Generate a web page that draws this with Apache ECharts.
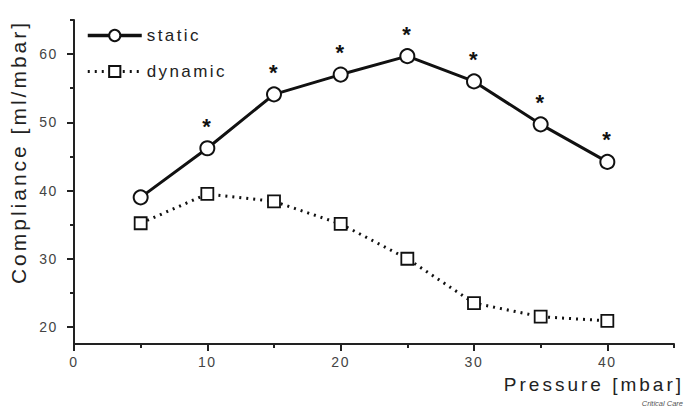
<!DOCTYPE html>
<html>
<head>
<meta charset="utf-8">
<script src="https://cdn.jsdelivr.net/npm/echarts@6/dist/echarts.min.js"></script>
<style>
  html, body { margin: 0; padding: 0; background: #fff; }
  #chart { width: 685px; height: 409px; }
  /* the original figure uses widely tracked lettering */
  #chart text { letter-spacing: 1.6px; }
  #chart text[style*="21px"] { letter-spacing: 3px; }
  #chart text[style*="19px"] { letter-spacing: 3px; }
  #chart text[style*="17px"] { letter-spacing: 2.4px; }
  #chart text[style*="7.5px"] { letter-spacing: 0; }
</style>
</head>
<body>
<div id="chart"></div>
<script>
// data
const pressure = [5, 10, 15, 20, 25, 30, 35, 40];
const staticC = [39.0, 46.2, 54.1, 57.0, 59.7, 56.0, 49.7, 44.2];
const dynamicC = [35.2, 39.5, 38.4, 35.1, 30.0, 23.5, 21.5, 20.9];
const stars = ["", "*", "*", "*", "*", "*", "*", "*"];
// ticks
const xMajor = [0, 10, 20, 30, 40];
const xMinor = [5, 15, 25, 35, 45];
const yMajor = [20, 30, 40, 50, 60];
const yMinor = [25, 35, 45, 55, 65];

const chart = echarts.init(document.getElementById("chart"), null, { renderer: "svg" });
const ink = "#222";
const font = "Liberation Sans, Arial, sans-serif";
const labelStyle = { color: "#444", fontSize: 14, fontFamily: font };

const option = {
  animation: false,
  grid: { left: 74, right: 11, top: 20, bottom: 65 },
  legend: {
    orient: "vertical",
    left: 86,
    top: 27,
    padding: 0,
    itemWidth: 54,
    itemHeight: 14,
    itemGap: 19,
    textStyle: { color: "#222", fontSize: 17, fontFamily: font },
    data: [
      { name: "static", lineStyle: { width: 3.5 } },
      { name: "dynamic", lineStyle: { width: 3 } }
    ]
  },
  xAxis: [
    {
      type: "value", min: 0, max: 45, splitLine: { show: false },
      axisLine: { lineStyle: { color: ink, width: 2 } },
      axisTick: { customValues: xMajor, length: 7, lineStyle: { color: ink, width: 2 } },
      axisLabel: { customValues: xMajor, margin: 11, ...labelStyle }
    },
    {
      type: "value", min: 0, max: 45, position: "bottom", splitLine: { show: false },
      axisLine: { show: false },
      axisTick: { customValues: xMinor, length: 4, lineStyle: { color: ink, width: 2 } },
      axisLabel: { show: false }
    }
  ],
  yAxis: [
    {
      type: "value", min: 17.5, max: 65, splitLine: { show: false },
      axisLine: { show: true, lineStyle: { color: ink, width: 2 } },
      axisTick: { show: true, customValues: yMajor, length: 7, lineStyle: { color: ink, width: 2 } },
      axisLabel: { customValues: yMajor, margin: 16, ...labelStyle }
    },
    {
      type: "value", min: 17.5, max: 65, position: "left", splitLine: { show: false },
      axisLine: { show: false },
      axisTick: { show: true, customValues: yMinor, length: 4, lineStyle: { color: ink, width: 2 } },
      axisLabel: { show: false }
    }
  ],
  graphic: [
    {
      type: "text", x: 18, y: 152, rotation: Math.PI / 2,
      style: {
        text: "Compliance [ml/mbar]", fill: "#222", fontSize: 21, fontFamily: font,
        textAlign: "center", textVerticalAlign: "middle"
      }
    },
    {
      type: "text", x: 684, y: 384,
      style: {
        text: "Pressure [mbar]", fill: "#222", fontSize: 19, fontFamily: font,
        textAlign: "right", textVerticalAlign: "middle"
      }
    },
    {
      type: "text", x: 683, y: 403,
      style: {
        text: "Critical Care", fill: "#555", fontSize: 7.5, fontStyle: "italic", fontFamily: font,
        textAlign: "right", textVerticalAlign: "middle"
      }
    }
  ],
  series: [
    {
      name: "static", type: "line",
      data: pressure.map((p, i) => [p, staticC[i]]),
      symbol: "circle", symbolSize: 14,
      lineStyle: { color: "#111", width: 3 },
      itemStyle: { color: "#fff", borderColor: "#111", borderWidth: 2 },
      label: {
        show: true, position: "top", distance: 3,
        formatter: p => stars[p.dataIndex],
        color: "#111", fontSize: 22, fontWeight: "bold", fontFamily: font
      }
    },
    {
      name: "dynamic", type: "line",
      data: pressure.map((p, i) => [p, dynamicC[i]]),
      symbol: "rect", symbolSize: 12,
      lineStyle: { color: "#111", width: 3, type: [2, 5] },
      itemStyle: { color: "#fff", borderColor: "#111", borderWidth: 1.8 }
    }
  ]
};
chart.setOption(option);
</script>
</body>
</html>
